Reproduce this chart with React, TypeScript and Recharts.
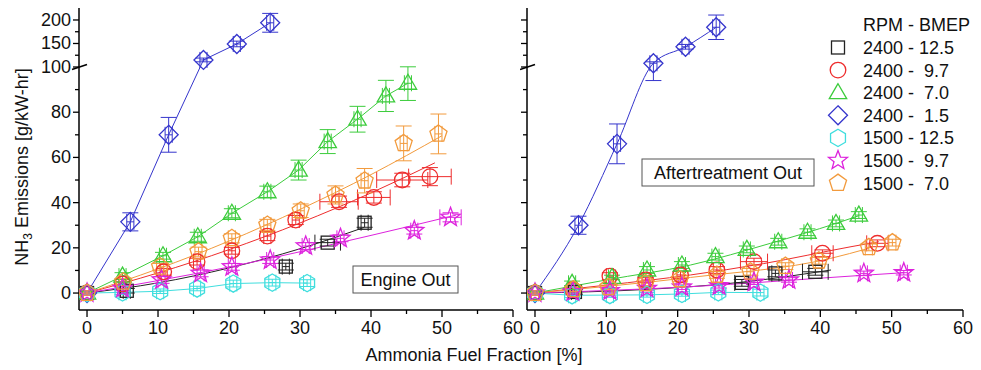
import React from 'react';
import { ComposedChart, Line, Scatter, XAxis, YAxis, ErrorBar } from 'recharts';

const F = '"Liberation Sans", Arial, Helvetica, sans-serif';

type Pt = [number, number, (number | [number, number])?, number?];
type FP = [number, number];

// ---------- Engine Out ----------
const eoBlack: Pt[] = [[0, 0, 1], [5.6, 1, 1], [28, 11.7, 1.5], [33.9, 22.3, 1.5, 1.8], [39.1, 31.1, 2]];
const eoBlackFit: FP[] = [[0, 0], [10, 4.5], [20, 11.1], [30, 19.6], [39, 29]];
const eoRed: Pt[] = [[0, 0, 1], [5, 4, 1], [10.8, 9.4, 1.5], [15.5, 13.9, 1.5], [20.4, 18.7, 1.5], [25.4, 25.2, 2], [29.4, 32.3, 2], [35.5, 40.4, 2.5, 2.7], [40.4, 42.3, 2.5, 2.3], [44.4, 50, 3, 3.6], [48.3, 51.5, 4, 3]];
const eoRedFit: FP[] = [[0, 0], [10, 8.9], [20, 19.2], [30, 31], [40, 44.3], [49, 57.6]];
const eoGreen: Pt[] = [[0, 0, 1], [5, 7.5, 1.5], [10.7, 16.5, 1.5], [15.6, 24.9, 2], [20.4, 35.3, 2], [25.4, 44.8, 2.5], [29.8, 54.4, 4.4], [33.9, 67, 5.3], [38.1, 76.9, 5.7], [42.1, 87.2, 6.9], [45.2, 92.8, 7.6]];
const eoGreenFit: FP[] = [[0, 0], [5, 7.5], [10.7, 16.5], [15.6, 24.9], [20.4, 35.3], [25.4, 44.8], [29.8, 54.4], [33.9, 67], [38.1, 76.9], [42.1, 87.2], [45.2, 92.8]];
const eoBlue: Pt[] = [[0, 0, 1], [6.1, 31.5, 4], [11.5, 70, 7.7], [16.4, 115, 4], [21.1, 149, 6], [25.8, 194, 20]];
const eoBlueFit: FP[] = [[0, 0], [6.1, 31.5], [11.5, 70], [16.4, 115], [21.1, 149], [25.8, 194]];
const eoCyan: Pt[] = [[0, 0, 1], [5, 0.3, 1], [10.3, 0.8, 1], [15.5, 2, 1], [20.6, 4.2, 1.5], [26.1, 4.6, 1.5], [31, 4.4, 1.5]];
const eoCyanFit: FP[] = [[0, 0], [5, 0.3], [10.3, 0.8], [15.5, 2], [20.6, 4.2], [26.1, 4.6], [31, 4.4]];
const eoMagenta: Pt[] = [[0, 0, 1], [5, 2, 1], [10.5, 5.8, 1.5], [16, 8.7, 1.5], [20.4, 11.6, 1.5], [25.8, 14.6, 1.5], [30.8, 20.8, 1.5], [35.7, 24.2, 1.5], [46.1, 27.6, 1.5], [51.2, 33.5, 2, 1.5]];
const eoMagentaFit: FP[] = [[0, 0], [20, 11.5], [40, 25.5], [52, 34.5]];
const eoOrange: Pt[] = [[0, 0, 1], [5.1, 5, 1.5], [10.3, 11.6, 1.5], [15.7, 18.3, 2], [20.4, 24.2, 2], [25.4, 30.1, 2.5], [30.1, 36.4, 3], [35, 43.4, 4], [39.1, 49.7, 5.4], [44.6, 66.2, 7.7], [49.5, 70.4, 8.8]];
const eoOrangeFit: FP[] = [[0, 0], [10, 10.7], [20, 23], [30, 37], [40, 52.4], [50, 69.6]];

// ---------- Aftertreatment Out ----------
const atBlack: Pt[] = [[0, 0, 1], [5.6, 0.5, 1], [29, 4.5, 1.5, 1], [33.7, 8.7, 1.5], [39.3, 9.4, 1.5, 1.8]];
const atBlackFit: FP[] = [[0, 0], [15, 1.5], [29, 4.8], [41.5, 10.2]];
const atRed: Pt[] = [[0, 0, 1], [5.3, 1.5, 1], [10.5, 7.5, 1.5], [15.5, 5.8, 1], [20.4, 8, 1.5], [25.5, 10.2, 1.5], [30.7, 13.9, 1.5, 1.9], [40.3, 17.6, 1.5, 1.5], [48, 22, 1.5, 1.5]];
const atRedFit: FP[] = [[0, 0], [10, 3.5], [21.8, 8], [32, 13], [44.3, 20.5], [48.2, 22.7]];
const atGreen: Pt[] = [[0, 0, 1], [5.2, 4.3, 1], [10.8, 6.9, 1], [15.7, 10.2, 1.5], [20.6, 12.4, 1.5], [25.3, 16.1, 1.5], [29.7, 19.3, 1.5], [34.1, 22.7, 1.5], [38.2, 26.9, 1.5], [42.2, 30.8, 1.5], [45.4, 34.5, 1.5]];
const atGreenFit: FP[] = [[0, 0], [10, 5.8], [21.8, 12.4], [33, 22], [42.2, 30.8], [45.4, 34.2]];
const atBlue: Pt[] = [[0, 0, 1], [6.1, 30, 4], [11.5, 66, 8.8], [16.6, 108, [14, 3]], [21.1, 143, 5], [25.4, 184.5, 26]];
const atBlueFit: FP[] = [[0, 0], [6.1, 30], [11.5, 66], [16.6, 108], [21.1, 143], [25.4, 184.5]];
const atCyan: Pt[] = [[0, 0, 1], [5.2, -1, 1], [10.5, -0.9, 1], [15.7, -0.8, 1], [20.6, -0.4, 1], [25.7, 0.3, 1], [31.6, 0.2, 1.5]];
const atCyanFit: FP[] = [[0, 0], [5.2, -1], [10.5, -0.9], [15.7, -0.8], [20.6, -0.4], [25.7, 0.3], [31.6, 0.2]];
const atMagenta: Pt[] = [[0, 0, 1], [5.3, 0.5, 1], [10.5, 1, 1], [15.7, 2, 1], [20.6, 2.6, 1], [25.8, 3.2, 1], [30.7, 4.8, 1], [35.6, 5.8, 1], [46.1, 8.7, 1], [51.7, 9, 1]];
const atMagentaFit: FP[] = [[0, 0], [21.8, 2.8], [44.3, 7.5], [51.7, 9]];
const atOrange: Pt[] = [[0, 0, 1], [5.4, 1.6, 1], [10.3, 2.5, 1], [15.5, 4.3, 1], [20.3, 6, 1], [25.5, 8, 1.5], [30.2, 9.4, 1.5], [35.1, 11.9, 1.5], [39.8, 14.3, 1.5], [46.8, 20.2, 1.5], [50.1, 22.3, 1.5]];
const atOrangeFit: FP[] = [[0, 0], [21.8, 6.9], [41.4, 15.3], [46.8, 19.8]];

// ---------- Legend / series meta ----------
const seriesNames = ['2400 - 12.5', '2400 -  9.7', '2400 -  7.0', '2400 -  1.5', '1500 - 12.5', '1500 -  9.7', '1500 -  7.0'];
const seriesColors = ['#222222', '#ee2d2d', '#3ccc3c', '#3535cc', '#3fdede', '#dd22dd', '#f29a3c'];
const seriesShapes = ['square', 'circle', 'triangle', 'diamond', 'hexagon', 'star', 'pentagon'];

const eoPoints = [eoBlack, eoRed, eoGreen, eoBlue, eoCyan, eoMagenta, eoOrange];
const eoFits = [eoBlackFit, eoRedFit, eoGreenFit, eoBlueFit, eoCyanFit, eoMagentaFit, eoOrangeFit];
const atPoints = [atBlack, atRed, atGreen, atBlue, atCyan, atMagenta, atOrange];
const atFits = [atBlackFit, atRedFit, atGreenFit, atBlueFit, atCyanFit, atMagentaFit, atOrangeFit];

// ---------- Axes ----------
const xTicks = [0, 5, 10, 15, 20, 25, 30, 35, 40, 45, 50, 55, 60];
const xLabels = [0, 10, 20, 30, 40, 50, 60];
const yTicksRaw = [0, 10, 20, 30, 40, 50, 60, 70, 80, 90, 100, 125, 150, 175, 200];
const yLabels = [0, 20, 40, 60, 80, 100, 150, 200];

// broken axis: above 100 the scale is compressed
const BREAK = 100;
const UPPER = 0.208;
const disp = (v: number) => (v <= BREAK ? v : BREAK + (v - BREAK) * UPPER);
const rawOf = (d: number) => {
  let best = yTicksRaw[0];
  for (const r of yTicksRaw) if (Math.abs(disp(r) - d) < Math.abs(disp(best) - d)) best = r;
  return best;
};

const toScatter = (pts: Pt[]) =>
  pts.map(([x, y, e = 1, ex = 0.5]) => {
    const [lo, hi] = Array.isArray(e) ? e : [e, e];
    return { x, y: disp(y), ey: [disp(y) - disp(y - lo), disp(y + hi) - disp(y)], ex };
  });
const toLine = (pts: FP[]) => pts.map(([x, y]) => ({ x, y: disp(y) }));

function Marker({ kind, cx, cy, color, sw = 1.3 }: { kind: string; cx: number; cy: number; color: string; sw?: number }) {
  const common = { fill: 'none', stroke: color, strokeWidth: sw };
  const poly = (n: number, r: number, rot = -90, inner?: number) => {
    const pts: string[] = [];
    const m = inner ? n * 2 : n;
    for (let i = 0; i < m; i++) {
      const a = ((rot + (360 / m) * i) * Math.PI) / 180;
      const rr = inner && i % 2 === 1 ? inner : r;
      pts.push(`${cx + rr * Math.cos(a)},${cy + rr * Math.sin(a)}`);
    }
    return pts.join(' ');
  };
  switch (kind) {
    case 'square':
      return <rect x={cx - 6.5} y={cy - 6.5} width={13} height={13} {...common} />;
    case 'circle':
      return <circle cx={cx} cy={cy} r={7.8} {...common} />;
    case 'triangle':
      return <polygon points={`${cx},${cy - 9} ${cx - 8.7},${cy + 6} ${cx + 8.7},${cy + 6}`} {...common} />;
    case 'diamond':
      return <polygon points={poly(4, 9.5)} {...common} />;
    case 'hexagon':
      return <polygon points={poly(6, 8.6)} {...common} />;
    case 'star':
      return <polygon points={poly(5, 10, -90, 4.2)} {...common} />;
    default:
      return <polygon points={poly(5, 9)} {...common} />;
  }
}

const makeYTick = (axX: number, labels: boolean) => (props: any) => {
  const yy = props.y;
  const raw = rawOf(props.payload.value);
  const major = yLabels.includes(raw);
  const len = major ? 6 : 4;
  return (
    <g>
      <line x1={axX - len} x2={axX} y1={yy} y2={yy} stroke="#000" strokeWidth={1.3} />
      {labels && major && (
        <text x={axX - 8} y={yy + 6} textAnchor="end" fontSize={18} fontFamily={F} fill="#111">
          {raw}
        </text>
      )}
      {raw === BREAK && <path d={`M${axX - 7},${yy + 2.5} L${axX + 8},${yy - 2.5}`} stroke="#000" strokeWidth={1.6} />}
    </g>
  );
};

const makeXTick = (axY: number) => (props: any) => {
  const xx = props.x;
  const v = props.payload.value;
  const major = xLabels.includes(v);
  return (
    <g>
      <line x1={xx} x2={xx} y1={axY} y2={axY + (major ? 7 : 4)} stroke="#000" strokeWidth={1.3} />
      {major && (
        <text x={xx} y={axY + 24} textAnchor="middle" fontSize={18} fontFamily={F} fill="#111">
          {v}
        </text>
      )}
    </g>
  );
};

const Y_DOMAIN: [number, number] = [-7.5, 126.1];

function Panel({ points, fits, width, left, yAxisWidth, xMin, marginRight, labels, lineTypes }: any) {
  const axY = 310;
  const axX = yAxisWidth;
  return (
    <div style={{ position: 'absolute', left, top: 0 }}>
      <ComposedChart width={width} height={370} margin={{ top: 8, right: marginRight, left: 0, bottom: 0 }}>
        <XAxis
          type="number"
          dataKey="x"
          domain={[xMin, 60]}
          allowDataOverflow
          ticks={xTicks}
          interval={0}
          tickLine={false}
          tick={makeXTick(axY)}
          height={60}
          axisLine={{ stroke: '#000', strokeWidth: 1.5 }}
        />
        <YAxis
          type="number"
          dataKey="y"
          domain={Y_DOMAIN}
          allowDataOverflow
          ticks={yTicksRaw.map(disp)}
          interval={0}
          tickLine={false}
          tick={makeYTick(axX, labels)}
          width={yAxisWidth}
          axisLine={{ stroke: '#000', strokeWidth: 1.5 }}
        />
        {fits.map((f: FP[], i: number) => (
          <Line
            key={'l' + i}
            data={toLine(f)}
            dataKey="y"
            type={lineTypes[i]}
            stroke={seriesColors[i]}
            strokeWidth={1}
            dot={false}
            activeDot={false}
            isAnimationActive={false}
          />
        ))}
        {points.map((p: Pt[], i: number) => (
          <Scatter
            key={'s' + i}
            data={toScatter(p)}
            dataKey="y"
            isAnimationActive={false}
            shape={(sp: any) => <Marker kind={seriesShapes[i]} cx={sp.cx} cy={sp.cy} color={seriesColors[i]} />}
          >
            <ErrorBar dataKey="ey" direction="y" width={8} stroke={seriesColors[i]} strokeWidth={1} isAnimationActive={false} />
            <ErrorBar dataKey="ex" direction="x" width={8} stroke={seriesColors[i]} strokeWidth={1} isAnimationActive={false} />
          </Scatter>
        ))}
      </ComposedChart>
    </div>
  );
}

export default function App() {
  return (
    <div style={{ position: 'absolute', left: 0, top: 0, width: 981, height: 370, background: '#fff', fontFamily: F }}>
      <Panel
        points={eoPoints}
        fits={eoFits}
        width={540}
        left={0}
        yAxisWidth={79}
        xMin={-1.13}
        marginRight={27}
        labels={true}
        lineTypes={['monotone', 'monotone', 'linear', 'linear', 'linear', 'monotone', 'monotone']}
      />
      <Panel
        points={atPoints}
        fits={atFits}
        width={461}
        left={520}
        yAxisWidth={7}
        xMin={-1.12}
        marginRight={18}
        labels={false}
        lineTypes={['monotone', 'monotone', 'monotone', 'monotone', 'linear', 'monotone', 'monotone']}
      />
      <svg width={981} height={370} style={{ position: 'absolute', left: 0, top: 0, pointerEvents: 'none' }}>
        <text transform="translate(28,167) rotate(-90)" textAnchor="middle" fontSize={18} fontFamily={F} fill="#111">
          NH<tspan fontSize={12} dy={4}>3</tspan>
          <tspan dy={-4}> Emissions [g/kW-hr]</tspan>
        </text>
        <text x={474} y={361} textAnchor="middle" fontSize={18} fontFamily={F} fill="#111">
          Ammonia Fuel Fraction [%]
        </text>
        <rect x={353} y={266} width={105} height={27} fill="#fff" stroke="#555" strokeWidth={1} />
        <text x={405.5} y={286} textAnchor="middle" fontSize={18} fontFamily={F} fill="#111">
          Engine Out
        </text>
        <rect x={642} y={159} width={172} height={27} fill="#fff" stroke="#555" strokeWidth={1} />
        <text x={728} y={179} textAnchor="middle" fontSize={18} fontFamily={F} fill="#111">
          Aftertreatment Out
        </text>
        <text x={863} y={31} fontSize={18} fontFamily={F} fill="#111">
          RPM - BMEP
        </text>
        {seriesNames.map((n, i) => {
          const cy = 47.5 + i * 22.6;
          return (
            <g key={n}>
              <Marker kind={seriesShapes[i]} cx={838} cy={cy} color={seriesColors[i]} />
              <text x={863} y={cy + 6.5} fontSize={18} fontFamily={F} fill="#111" style={{ whiteSpace: 'pre' }}>
                {n}
              </text>
            </g>
          );
        })}
      </svg>
    </div>
  );
}
